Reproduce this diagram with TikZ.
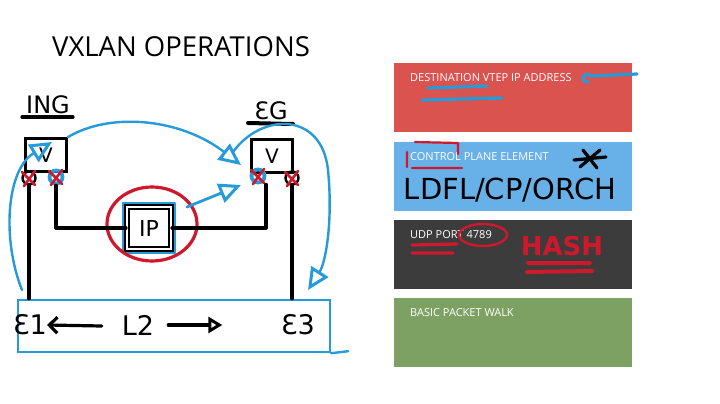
\documentclass[tikz,border=0pt]{standalone}
\usepackage{fontspec}
\setmainfont{Open Sans}
\newfontfamily\handfont{DejaVu Sans}
\usetikzlibrary{positioning,arrows.meta,calc}
\definecolor{cardred}{RGB}{218,83,79}
\definecolor{cardblue}{RGB}{104,176,232}
\definecolor{carddark}{RGB}{60,60,60}
\definecolor{cardgreen}{RGB}{125,161,99}
\definecolor{penblue}{RGB}{38,155,218}
\definecolor{penred}{RGB}{206,24,44}

\begin{document}
\begin{tikzpicture}[x=1pt,y=-1pt,
  card/.style={anchor=north west, minimum width=238pt, minimum height=69pt, inner sep=0pt},
  cardtxt/.style={anchor=west, inner sep=0pt, text=white, font=\fontsize{11}{13}\selectfont},
  pen/.style={line width=3.2pt, line cap=round, line join=round},
  blk/.style={pen, black},
  blu/.style={pen, penblue},
  rd/.style={pen, penred},
  hand/.style={inner sep=0pt, font=\handfont\fontsize{24}{24}\selectfont},
  vtep/.style={draw, line width=2.8pt, minimum width=41pt, minimum height=33pt},
  port/.style={circle, draw, minimum size=13pt, inner sep=0pt},
  tri/.style={-{Triangle[open, length=22pt, width=20pt, line width=3pt]}}
]
\useasboundingbox[fill=white] (0,0) rectangle (720,404);

% title
\node[anchor=west, inner sep=0pt, font=\fontsize{27.5}{28}\selectfont] (title) at (52,47) {VXLAN OPERATIONS};

% right hand cards
\node[card, fill=cardred] (dest) at (394,63) {};
\node[card, fill=cardblue] (ctrl) at (394,142) {};
\node[card, fill=carddark] (udp) at (394,220) {};
\node[card, fill=cardgreen] (walk) at (394,298) {};
\node[cardtxt] (destlbl) at (410,78) {DESTINATION VTEP IP ADDRESS};
\node[cardtxt] (ctrllbl) at (410,157) {CONTROL PLANE ELEMENT};
\node[cardtxt] (udplbl) at (410,235) {UDP PORT 4789};
\node[cardtxt] (walklbl) at (410,313) {BASIC PACKET WALK};

% notes on the cards
\coordinate (pointer) at (637,74);
\draw[blu] (pointer) -- (591,76) .. controls (583,70) and (579,82) .. (588,82);
\draw[blu] (428,88) -- (487,86);
\draw[blu] (422,100) -- (502,98);
\draw[rd, line width=2.2pt] (407,152) -- (407,167) (412,168) -- (462,168)
  (415,142) -- (458,143) -- (458,154);
\draw[blk] (574,160) -- (606,157) (583,150) -- (597,168) (600,150) -- (580,167);
\node[hand, font=\handfont\fontsize{29}{29}\selectfont] (cpnote) at (510,190) {LDFL/CP/ORCH};
\draw[rd, line width=2.4pt] (483,235) ellipse (24 and 11);
\draw[rd] (412,245) -- (457,244) (412,253) -- (453,253);
\node[hand, text=penred, font=\handfont\bfseries\fontsize{26}{26}\selectfont] (hash) at (562,246) {HASH};
\draw[rd, line width=4pt] (528,263) -- (590,263) (527,272) -- (592,271);

% hand drawn topology
\node[hand] (ing) at (48,105) {ING};
\draw[blk] (22,117) -- (73,117);
\node[hand] (eg) at (271,111) {ƐG};
\draw[blk, line width=4pt] (248,123) -- (293,124);

\node[vtep] (ingbox) at (46,155) {};
\node[vtep] (egbox) at (272,156) {};
\node[hand, font=\handfont\fontsize{20}{20}\selectfont] (ingv) at (ingbox) {V};
\node[hand, font=\handfont\fontsize{20}{20}\selectfont] (egv) at (egbox) {V};

\node[port, line width=2.4pt] (ingl) at (29,178) {};
\node[port, draw=penblue, line width=3.8pt] (ingr) at (56,177) {};
\node[port, draw=penblue, line width=3.8pt] (egl) at (258,176) {};
\node[port, line width=2.4pt] (egr) at (292,178) {};
\foreach \p in {ingl,ingr,egl,egr}
  \draw[rd, line width=2.6pt] ($(\p)+(-7,-6)$) -- ($(\p)+(6,7)$) ($(\p)+(6,-7)$) -- ($(\p)+(-5,8)$);

\node[draw, line width=2pt, double, double distance=2.5pt, minimum width=44pt, minimum height=42pt,
  font=\handfont\fontsize{22}{22}\selectfont] (ipbox) at (149,228) {IP};
\draw[blu, line width=2.4pt] ($(ipbox.north west)+(-3,-3)$) rectangle ($(ipbox.south east)+(3,3)$);
\draw[rd] (152,224) ellipse (45 and 37);

\node[draw=penblue, line width=2.4pt, minimum width=312pt, minimum height=52pt] (bar) at (174,326) {};
\draw[blu, line width=2.4pt] (bar.south east) -- ++(17,-2);
\node[hand, font=\handfont\fontsize{27}{27}\selectfont] (e1) at (30,325) {Ɛ1};
\node[hand, font=\handfont\fontsize{27}{27}\selectfont] (l2) at (138,325) {L2};
\node[hand, font=\handfont\fontsize{27}{27}\selectfont] (e3) at (298,325) {Ɛ3};
\draw[blk, -{Straight Barb[length=8pt, width=16pt]}] ($(l2.west)+(-20,1)$) -- (e1.east);
\draw[blk, -{Triangle[open, length=14pt, width=16pt, line width=3pt]}] ($(l2.east)+(14,0)$) -- ($(l2.east)+(68,0)$);

% wires
\draw[blk] (ingl.south) -- (ingl.south |- bar.north);
\draw[blk] (ingr.south) |- (ipbox.west);
\draw[blk] (ipbox.east) -| ($(egl.south)+(8,0)$);
\draw[blk] (egr.south) -- (egr.south |- bar.north);

% blue flow
\coordinate (loopin) at (22,290);
\draw[blu, line width=2.4pt, tri] (loopin) .. controls (2,240) and (6,170) .. (52,142);
\draw[blu, line width=2.4pt, tri] (ingbox.north east) .. controls (110,112) and (180,118) .. (241,165);
\draw[blu, line width=2.8pt, tri] (187,207) -- (241,185);
\draw[blu, line width=2.4pt, tri] (233,152) .. controls (262,112) and (322,112) .. (328,170)
  .. controls (333,220) and (326,262) .. (308,290);
\end{tikzpicture}
\end{document}
